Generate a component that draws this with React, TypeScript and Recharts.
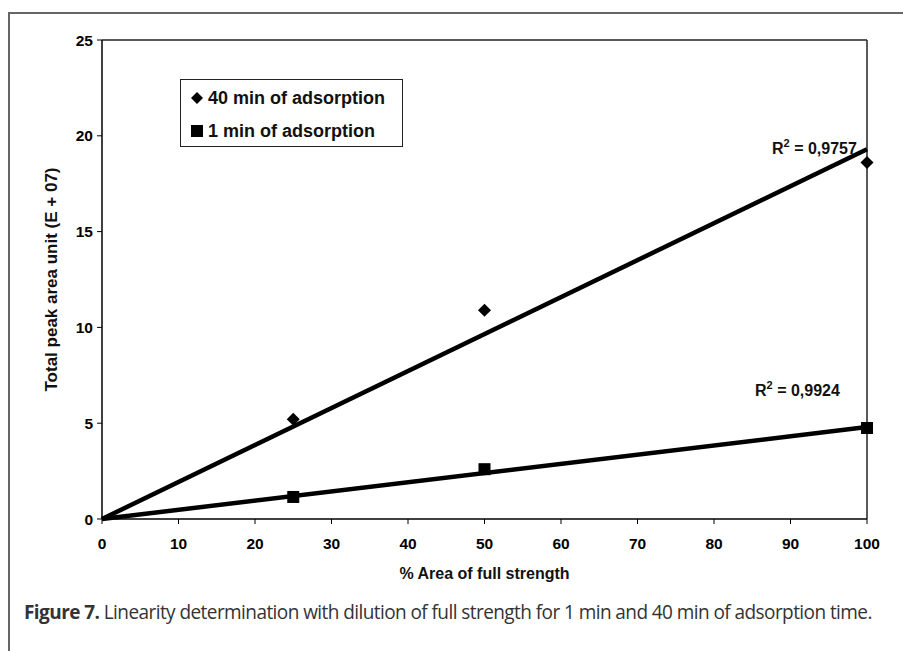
import React from 'react'
import {
  ComposedChart,
  Scatter,
  Line,
  XAxis,
  YAxis,
  ReferenceLine,
} from 'recharts'

// dilution level (% of full strength)
const xPoints = [25, 50, 100]
// total peak area (E+07)
const min40 = [5.2, 10.9, 18.6]
const min1 = [1.15, 2.6, 4.75]

// linear trendlines through the origin, read at x = 0 and x = 100
const trendX = [0, 100]
const trend40 = [0, 19.3]
const trend1 = [0, 4.8]

const xTicks = [0, 10, 20, 30, 40, 50, 60, 70, 80, 90, 100]
const yTicks = [0, 5, 10, 15, 20, 25]

const FONT = '"Liberation Sans", Arial, sans-serif'

const scatter40 = xPoints.map((x, i) => ({ x, y: min40[i] }))
const scatter1 = xPoints.map((x, i) => ({ x, y: min1[i] }))
const line40 = trendX.map((x, i) => ({ x, y: trend40[i] }))
const line1 = trendX.map((x, i) => ({ x, y: trend1[i] }))

const Diamond = (props: any) => {
  const { cx, cy } = props
  const r = 6.5
  return (
    <polygon
      points={`${cx},${cy - r} ${cx + r},${cy} ${cx},${cy + r} ${cx - r},${cy}`}
      fill="#000"
    />
  )
}

const Square = (props: any) => {
  const { cx, cy } = props
  const s = 12
  return <rect x={cx - s / 2} y={cy - s / 2} width={s} height={s} fill="#000" />
}

// legend box drawn over the plot, like the original's framed legend
const LegendBox = () => (
  <div
    style={{
      position: 'absolute',
      left: 180,
      top: 79,
      width: 223,
      height: 68,
      border: '1px solid #222',
      fontFamily: FONT,
      fontWeight: 'bold',
      fontSize: 18,
      color: '#111',
      boxSizing: 'border-box',
      background: '#fff',
    }}
  >
    <div style={{ position: 'absolute', left: 9, top: 7, display: 'flex', alignItems: 'center', height: 22 }}>
      <svg width={14} height={14} style={{ marginRight: 4 }}>
        <polygon points="7,1 13,7 7,13 1,7" fill="#000" />
      </svg>
      40 min of adsorption
    </div>
    <div style={{ position: 'absolute', left: 9, top: 40, display: 'flex', alignItems: 'center', height: 22 }}>
      <svg width={14} height={14} style={{ marginRight: 4 }}>
        <rect x={1} y={1} width={12} height={12} fill="#000" />
      </svg>
      1 min of adsorption
    </div>
  </div>
)

const rLabel: React.CSSProperties = {
  position: 'absolute',
  fontFamily: FONT,
  fontWeight: 'bold',
  fontSize: 16,
  color: '#111',
  whiteSpace: 'nowrap',
}

const supStyle: React.CSSProperties = {
  fontSize: 11,
  verticalAlign: 'top',
  position: 'relative',
  top: -3,
}

export default function App() {
  return (
    <div style={{ position: 'absolute', left: 0, top: 0, width: 903, height: 651, background: '#fff' }}>
      <div
        style={{
          position: 'absolute',
          left: 8,
          top: 12,
          width: 895,
          height: 639,
          borderLeft: '2px solid #666',
          borderTop: '2px solid #666',
        }}
      />
      <ComposedChart
        width={903}
        height={651}
        margin={{ top: 40, right: 36, bottom: 24, left: 0 }}
        style={{ position: 'absolute', left: 0, top: 0 }}
      >
        <XAxis
          type="number"
          dataKey="x"
          domain={[0, 100]}
          ticks={xTicks}
          height={108}
          tickSize={5}
          tickMargin={14}
          axisLine={{ stroke: '#000', strokeWidth: 1.5 }}
          tickLine={{ stroke: '#000' }}
          tick={{ fill: '#000', fontSize: 15.5, fontWeight: 'bold', fontFamily: FONT }}
          label={{
            value: '% Area of full strength',
            position: 'center',
            fill: '#111',
            fontSize: 16,
            fontWeight: 'bold',
            fontFamily: FONT,
          }}
        />
        <YAxis
          type="number"
          dataKey="y"
          domain={[0, 25]}
          ticks={yTicks}
          width={102}
          tickSize={5}
          tickMargin={4}
          axisLine={{ stroke: '#000', strokeWidth: 1.5 }}
          tickLine={{ stroke: '#000' }}
          tick={{ fill: '#000', fontSize: 15.5, fontWeight: 'bold', fontFamily: FONT }}
          label={{
            value: 'Total peak area unit (E + 07)',
            position: 'center',
            angle: -90,
            fill: '#111',
            fontSize: 17,
            fontWeight: 'bold',
            fontFamily: FONT,
          }}
        />
        <ReferenceLine y={25} stroke="#222" strokeWidth={1.5} />
        <ReferenceLine x={100} stroke="#222" strokeWidth={1.5} />
        <Line
          data={line40}
          dataKey="y"
          stroke="#000"
          strokeWidth={4.5}
          dot={false}
          legendType="none"
          isAnimationActive={false}
        />
        <Line
          data={line1}
          dataKey="y"
          stroke="#000"
          strokeWidth={4.5}
          dot={false}
          legendType="none"
          isAnimationActive={false}
        />
        <Scatter name="40 min of adsorption" data={scatter40} shape={<Diamond />} isAnimationActive={false} />
        <Scatter name="1 min of adsorption" data={scatter1} shape={<Square />} isAnimationActive={false} />
      </ComposedChart>
      <LegendBox />
      <div style={{ ...rLabel, left: 772, top: 140 }}>
        R<sup style={supStyle}>2</sup> = 0,9757
      </div>
      <div style={{ ...rLabel, left: 755, top: 382 }}>
        R<sup style={supStyle}>2</sup> = 0,9924
      </div>
      <div
        style={{
          position: 'absolute',
          left: 24,
          top: 598,
          fontFamily: '"Open Sans", "Noto Sans", sans-serif',
          fontSize: 20,
          color: '#333',
          whiteSpace: 'nowrap',
          letterSpacing: -0.6,
          transform: 'scaleX(0.95)',
          transformOrigin: 'left top',
        }}
      >
        <span style={{ fontWeight: 'bold' }}>Figure 7.</span> Linearity determination with dilution of full strength for 1 min and 40 min of adsorption time.
      </div>
    </div>
  )
}
